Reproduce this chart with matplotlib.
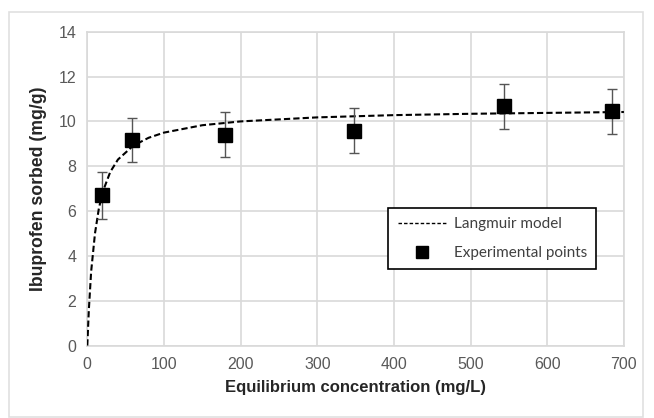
import matplotlib.pyplot as plt
from matplotlib.patches import Rectangle
from matplotlib.lines import Line2D

# Experimental points
conc = [19, 58, 180, 348, 544, 685]
sorbed = [6.7, 9.17, 9.4, 9.59, 10.68, 10.46]
err = [1.05, 1.0, 1.0, 1.0, 1.0, 1.0]

# Langmuir model curve
model_conc = [0, 2, 5, 10, 15, 20, 30, 40, 60, 80, 100, 150, 200, 300, 400, 500, 600, 700]
model_sorbed = [0, 1.6, 3.3, 5.0, 6.1, 6.85, 7.75, 8.3, 8.92, 9.27, 9.5, 9.83,
                10.0, 10.18, 10.28, 10.34, 10.38, 10.42]

xticks = [0, 100, 200, 300, 400, 500, 600, 700]
yticks = [0, 2, 4, 6, 8, 10, 12, 14]

grid_col = '#d9d9d9'
tick_col = '#595959'

fig = plt.figure(figsize=(6.54, 4.18), dpi=100)
ax = fig.add_axes([0.1335, 0.1734, 0.8205, 0.7506])

# outer chart frame
fig.patches.append(Rectangle((9 / 654, 1 / 418), 634 / 654, 405 / 418,
                             transform=fig.transFigure, fill=False,
                             edgecolor='#e0e0e0', linewidth=1.2))

ax.plot(model_conc, model_sorbed, color='black', linestyle=(0, (3, 1.5)),
        linewidth=1.5, label='Langmuir model', zorder=3)
ax.errorbar(conc, sorbed, yerr=err, fmt='s', color='black', markersize=10.5,
            ecolor='#555555', elinewidth=1, capsize=3.5, capthick=1,
            label='Experimental points', zorder=4)

ax.set_xlim(0, 700)
ax.set_ylim(0, 14)
ax.set_xticks(xticks)
ax.set_yticks(yticks)
ax.grid(True, color=grid_col, linewidth=1.2)
ax.set_axisbelow(True)
for s in ax.spines.values():
    s.set_color(grid_col)
    s.set_linewidth(1.2)
ax.tick_params(length=0, labelsize=11.5, colors=tick_col, pad=8)
for lab in ax.get_xticklabels() + ax.get_yticklabels():
    lab.set_family('Liberation Sans')

ax.set_xlabel('Equilibrium concentration (mg/L)', fontsize=12, fontweight='bold',
              family='Liberation Sans', color='#262626', labelpad=6)
ax.set_ylabel('Ibuprofen sorbed (mg/g)', fontsize=12.7, fontweight='bold',
              family='Liberation Sans', color='#262626', labelpad=8)

labels = ['Langmuir model', 'Experimental points']
h_line = Line2D([], [], color='black', linestyle=(0, (2.5, 1.5)), linewidth=1)
h_pt = Line2D([], [], color='black', marker='s', linestyle='none', markersize=9)
leg = ax.legend([h_line, h_pt], labels, loc='upper left',
                bbox_to_anchor=(0.561, 0.439), frameon=True, fancybox=False,
                edgecolor='black', framealpha=1, prop={'family': 'Lato', 'size': 11},
                labelspacing=1.0, handlelength=3.2, handletextpad=0.5,
                borderpad=0.6, borderaxespad=0)
leg.get_frame().set_linewidth(1.2)
for t in leg.get_texts():
    t.set_color('#404040')

fig.savefig('out.png', dpi=100)
